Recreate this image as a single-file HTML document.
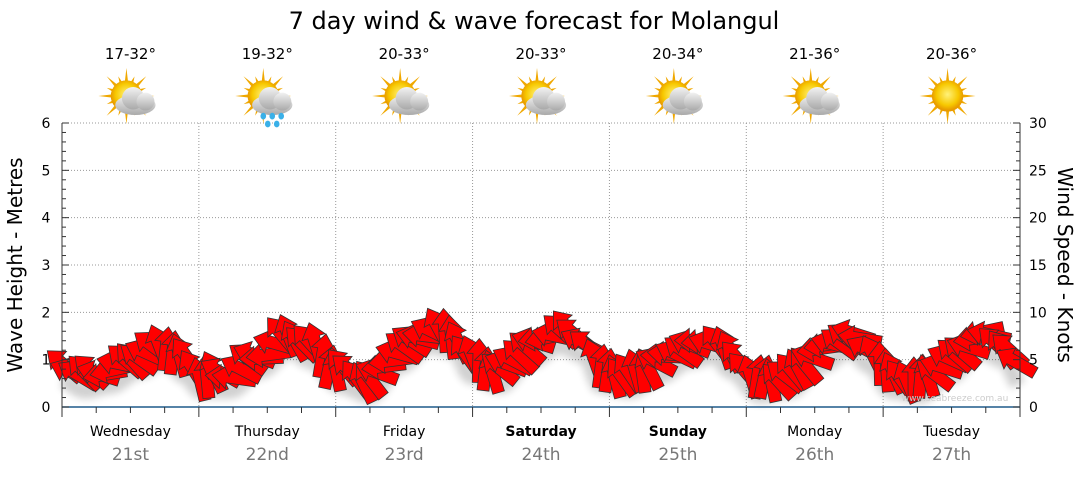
<!DOCTYPE html>
<html><head><meta charset="utf-8"><style>
body{margin:0;background:#fff;width:1080px;height:475px;overflow:hidden;font-family:"DejaVu Sans","Liberation Sans",sans-serif}
</style></head><body>
<svg id="s" width="1080" height="475" xmlns="http://www.w3.org/2000/svg" font-family="DejaVu Sans, Liberation Sans, sans-serif">
<defs>
<radialGradient id="sun" cx="50%" cy="45%" r="50%"><stop offset="0" stop-color="#fff27a"/><stop offset="0.7" stop-color="#f7c800"/><stop offset="1" stop-color="#e89a00"/></radialGradient>
<linearGradient id="cl" x1="0" y1="0" x2="0" y2="1"><stop offset="0" stop-color="#f2f2f2"/><stop offset="1" stop-color="#a9a9a9"/></linearGradient>
<filter id="sh" x="-20%" y="-20%" width="140%" height="160%"><feGaussianBlur stdDeviation="4"/></filter>
</defs>
<text x="534" y="29" font-size="24" text-anchor="middle" fill="#000">7 day wind &amp; wave forecast for Molangul</text>
<g id="grid" stroke="#999" stroke-dasharray="1,2" stroke-width="1"></g>
<g id="arrows"></g>
<g id="axes"></g>
<text x="22" y="265" font-size="20" transform="rotate(-90 22 265)" text-anchor="middle">Wave Height - Metres</text>
<text x="1058" y="265" font-size="20" transform="rotate(90 1058 265)" text-anchor="middle">Wind Speed - Knots</text>
<text x="955" y="401" font-size="9" fill="#ccc" text-anchor="middle">www.seabreeze.com.au</text>
</svg>
<script>
var s=document.getElementById('s'),NS='http://www.w3.org/2000/svg';
function el(p,t,a,tx){var e=document.createElementNS(NS,t);for(var k in a)e.setAttribute(k,a[k]);if(tx!=null)e.textContent=tx;p.appendChild(e);return e;}
var X0=62,X1=1020,Y0=407,Y6=123,dw=(X1-X0)/7;
var g=document.getElementById('grid'),ax=document.getElementById('axes');
for(var i=1;i<=6;i++){var y=Y0-i*(Y0-Y6)/6;el(g,'line',{x1:X0,x2:X1,y1:y,y2:y});}
for(var d=1;d<7;d++){var x=X0+d*dw;el(g,'line',{x1:x,x2:x,y1:Y6,y2:Y0});}
el(ax,'line',{x1:X0,x2:X0,y1:Y6,y2:Y0,stroke:'#333'});
el(ax,'line',{x1:X1,x2:X1,y1:Y6,y2:Y0,stroke:'#333'});
el(ax,'line',{x1:X0,x2:X1,y1:Y0,y2:Y0,stroke:'#1f5a8a','stroke-width':1.5});
for(var i=0;i<=30;i++){var y=Y0-i*(Y0-Y6)/30;var big=i%5==0;
 el(ax,'line',{x1:X0,x2:X0+(big?7:4),y1:y,y2:y,stroke:'#333'});
 el(ax,'line',{x1:X1,x2:X1-(big?7:4),y1:y,y2:y,stroke:'#333'});}
for(var i=0;i<=6;i++){var y=Y0-i*(Y0-Y6)/6;el(ax,'text',{x:46,y:y+5,'font-size':14,'text-anchor':'middle'},i);
 el(ax,'text',{x:1029,y:y+5,'font-size':14},i*5);}
for(var i=0;i<=28;i++){var x=X0+i*dw/4;el(ax,'line',{x1:x,x2:x,y1:Y0,y2:Y0+(i%4==0?10:6),stroke:'#333'});}
var days=['Wednesday','Thursday','Friday','Saturday','Sunday','Monday','Tuesday'],dates=['21st','22nd','23rd','24th','25th','26th','27th'];
var temps=['17-32°','19-32°','20-33°','20-33°','20-34°','21-36°','20-36°'];
for(var d=0;d<7;d++){var cx=X0+d*dw+dw/2;
 var b=(d==3||d==4);
 el(ax,'text',{x:cx,y:436,'font-size':14,'text-anchor':'middle','font-weight':b?'bold':'normal'},days[d]);
 el(ax,'text',{x:cx,y:460,'font-size':17,'text-anchor':'middle',fill:'#777'},dates[d]);
 el(ax,'text',{x:cx,y:59,'font-size':15,'text-anchor':'middle'},temps[d]);
 var ic=el(ax,'g',{transform:'translate('+(cx-4)+',96) scale(1.12)'});
 for(var r=0;r<16;r++){var a=r*Math.PI/8,L=r%2?19:25;el(ic,'polygon',{points:(Math.cos(a-0.15)*11)+','+(Math.sin(a-0.15)*11)+' '+(Math.cos(a)*L)+','+(Math.sin(a)*L)+' '+(Math.cos(a+0.15)*11)+','+(Math.sin(a+0.15)*11),fill:'#f0a800'});}
 el(ic,'circle',{r:14,fill:'url(#sun)'});
 if(d<6){var c=el(ic,'g',{transform:'translate(8,4)'});
  el(c,'ellipse',{cx:0,cy:4,rx:18,ry:9,fill:'url(#cl)'});el(c,'circle',{cx:-2,cy:-2,r:10,fill:'url(#cl)'});el(c,'circle',{cx:9,cy:1,r:8,fill:'url(#cl)'});
  if(d==1){[[-8,14],[0,14],[8,14],[-4,21],[4,21]].forEach(function(p){el(c,'ellipse',{cx:p[0],cy:p[1],rx:2.5,ry:3,fill:'#3ab0e8'});});}
 }
}
var pts=[[62,365],[85,375],[110,370],[140,355],[165,345],[185,360],[200,375],[230,375],[260,355],[290,335],[310,345],[340,370],[370,380],[400,350],[430,330],[455,335],[470,360],[500,370],[530,345],[560,330],[585,340],[600,370],[630,375],[660,360],[690,345],[715,340],[730,355],[760,380],[790,375],[820,350],[850,335],[870,350],[890,375],[920,380],[950,360],[980,335],[1005,345],[1020,370]];
function yAt(x){for(var i=0;i<pts.length-1;i++){if(x<=pts[i+1][0]){var t=(x-pts[i][0])/(pts[i+1][0]-pts[i][0]);t=(1-Math.cos(t*Math.PI))/2;return pts[i][1]+t*(pts[i+1][1]-pts[i][1]);}}return pts[pts.length-1][1];}
var A=document.getElementById('arrows');
var shp='';for(var x=62;x<=1020;x+=4)shp+=(shp?'L':'M')+x+','+(yAt(x)+16);
el(A,'path',{d:shp,stroke:'#000',opacity:0.18,'stroke-width':16,fill:'none',filter:'url(#sh)'});
for(var x=64;x<=1018;x+=6.8){
 var y=yAt(x)+4*Math.sin(x/5.1);var ang=225+35*Math.sin(x/23)+25*Math.sin(x/6.3);
 var gg=el(A,'g',{transform:'translate('+x.toFixed(1)+','+y.toFixed(1)+') rotate('+ang.toFixed(1)+')'});
 el(gg,'polygon',{points:'-22,-6 7,-6 7,-12 22,0 7,12 7,6 -22,6',fill:'#f00',stroke:'#333','stroke-width':0.8});
}
</script>
</body></html>
